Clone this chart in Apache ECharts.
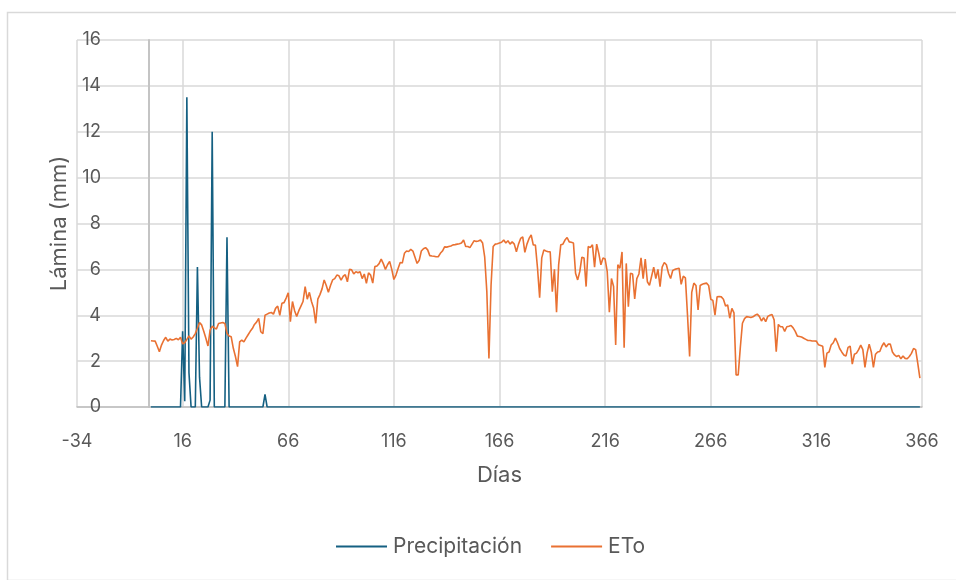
<!DOCTYPE html>
<html>
<head>
<meta charset="utf-8">
<script src="https://cdn.jsdelivr.net/npm/echarts@6/dist/echarts.min.js"></script>
<style>
html,body{margin:0;padding:0;background:#fff;}
#chart{width:956px;height:580px;}
</style>
</head>
<body>
<div id="chart"></div>
<script>
// ETo (mm) per day, days 1..365
const etoValues = [
2.89,2.88,2.87,2.65,2.41,2.7,2.9,3.04,2.87,2.96,
2.92,2.94,2.99,2.93,3.04,2.75,2.8,2.95,3.1,2.96,
3.05,3.2,3.43,3.68,3.58,3.3,3.0,2.66,3.35,3.52,
3.45,3.4,3.64,3.66,3.68,3.64,3.21,3.1,3.06,2.56,
2.2,1.76,2.84,2.92,2.84,3.0,3.15,3.3,3.42,3.6,
3.7,3.86,3.28,3.2,4.0,4.05,4.1,4.12,4.05,4.3,
4.4,4.0,4.52,4.55,4.75,4.98,3.72,4.6,4.2,3.95,
4.2,4.4,4.6,5.25,4.7,5.0,4.6,4.32,3.65,4.7,
4.9,5.15,5.54,5.3,5.0,5.3,5.54,5.6,5.75,5.72,
5.53,5.7,5.77,5.46,6.0,5.98,5.8,5.9,5.85,5.9,
5.6,5.8,5.39,5.85,5.75,5.4,6.12,6.15,6.25,6.45,
6.25,6.0,6.2,6.35,6.0,5.56,5.75,6.04,6.3,6.28,
6.7,6.8,6.78,6.87,6.8,6.53,6.26,6.4,6.8,6.9,
6.95,6.85,6.6,6.58,6.57,6.55,6.55,6.7,6.8,6.98,
6.97,7.0,7.02,7.07,7.08,7.1,7.12,7.15,7.28,7.0,
7.0,6.95,7.1,7.25,7.22,7.24,7.28,7.15,6.53,5.03,
2.12,5.3,7.0,7.1,7.12,7.15,7.18,7.28,7.15,7.25,
7.1,7.2,7.1,6.77,7.1,7.35,7.42,6.74,7.1,7.35,
7.5,7.06,7.06,6.05,4.77,6.5,6.85,6.8,6.77,6.77,
5.03,6.0,4.13,6.2,7.07,7.1,7.28,7.39,7.2,7.18,
7.15,5.83,5.54,5.9,6.53,6.5,5.25,7.0,6.95,7.07,
6.1,7.1,6.7,6.2,6.5,6.45,5.9,4.13,5.6,5.25,
2.7,6.2,6.05,6.76,2.58,6.26,4.37,5.83,5.8,4.71,
5.6,5.8,6.5,5.6,6.45,5.46,5.3,5.7,6.1,5.6,
6.0,5.25,6.1,6.3,6.2,5.83,5.6,5.95,6.0,6.03,
6.05,5.35,5.7,5.63,4.0,2.2,5.0,5.4,5.3,4.23,
5.3,5.35,5.38,5.4,5.3,4.7,4.65,4.0,4.8,4.82,
4.8,4.7,4.4,4.45,3.87,4.3,4.1,1.4,1.4,2.6,
3.65,3.85,3.94,3.92,3.9,3.93,4.0,4.05,3.95,3.75,
3.9,3.72,3.95,4.0,4.03,3.8,2.41,3.6,3.5,3.5,
3.3,3.5,3.52,3.55,3.45,3.3,3.09,3.07,3.05,3.0,
2.95,2.9,2.9,2.88,2.88,2.87,2.71,2.68,2.65,1.73,
2.35,2.4,2.7,2.8,3.0,2.8,2.55,2.4,2.27,2.22,
2.6,2.65,1.87,2.3,2.35,2.5,2.7,2.5,1.73,2.35,
2.74,2.4,1.73,2.3,2.4,2.42,2.65,2.8,2.62,2.74,
2.74,2.4,2.27,2.2,2.25,2.1,2.22,2.12,2.1,2.2,
2.34,2.55,2.5,1.9,1.26
];
// Precipitation (mm): only rainy days listed, all other days are 0
const rainDays = [16, 17, 18, 19, 23, 24, 29, 30, 37, 55];
const rainValues = [3.3, 0.25, 13.5, 1.5, 6.1, 1.3, 0.3, 12.0, 7.4, 0.55];
const firstDay = 1, lastDay = 365;
const xTicks = {min: -34, max: 366, interval: 50};
const yTicks = {min: 0, max: 16, interval: 2};

const days = [];
for (let d = firstDay; d <= lastDay; d++) days.push(d);
const precipData = days.map(d => {
  const i = rainDays.indexOf(d);
  return [d, i >= 0 ? rainValues[i] : 0];
});
const etoData = days.map((d, i) => [d, etoValues[i]]);

const txt = '#595959';
const font = 'Inter, "Noto Sans", sans-serif';
const chart = echarts.init(document.getElementById('chart'), null, {renderer: 'canvas'});
chart.setOption({
  animation: false,
  backgroundColor: '#ffffff',
  textStyle: {fontFamily: font},
  graphic: [{
    type: 'rect', left: 5, top: 10, silent: true,
    shape: {width: 980, height: 568},
    style: {fill: 'none', stroke: '#d9d9d9', lineWidth: 1.5}
  }],
  grid: {left: 77, right: 34, top: 40, bottom: 173, containLabel: false, outerBoundsMode: 'none'},
  legend: {
    left: 336, top: 536, padding: 0,
    itemWidth: 51, itemHeight: 2, itemGap: 29,
    icon: 'rect',
    textStyle: {color: txt, fontSize: 21, fontFamily: font, padding: [0, 0, 0, 1]},
    data: ['Precipitación', 'ETo']
  },
  xAxis: {
    type: 'value', min: xTicks.min, max: xTicks.max, interval: xTicks.interval,
    name: 'Días', nameLocation: 'middle', nameGap: 57,
    nameTextStyle: {color: txt, fontSize: 22, fontFamily: font},
    axisLine: {show: true, onZero: false, lineStyle: {color: '#bfbfbf', width: 1.5}},
    axisTick: {show: false},
    axisLabel: {color: txt, fontSize: 18, margin: 26, fontFamily: font},
    splitLine: {show: true, lineStyle: {color: '#d9d9d9', width: 1.5}}
  },
  yAxis: {
    type: 'value', min: yTicks.min, max: yTicks.max, interval: yTicks.interval,
    name: 'Lámina (mm)', nameLocation: 'middle', nameGap: 7,
    nameTextStyle: {color: txt, fontSize: 22, fontFamily: font},
    axisLine: {show: true, onZero: true, lineStyle: {color: '#c4c4c4', width: 2}},
    axisTick: {show: false},
    axisLabel: {color: txt, fontSize: 18, margin: -24, fontFamily: font},
    splitLine: {show: true, lineStyle: {color: '#d9d9d9', width: 1.5}}
  },
  series: [
    {
      name: 'Precipitación', type: 'line', data: precipData,
      showSymbol: false, symbol: 'none',
      itemStyle: {color: '#156082'},
      lineStyle: {color: '#156082', width: 1.6}
    },
    {
      name: 'ETo', type: 'line', data: etoData,
      showSymbol: false, symbol: 'none',
      itemStyle: {color: '#E97132'},
      lineStyle: {color: '#E97132', width: 1.6}
    }
  ]
});
</script>
</body>
</html>
